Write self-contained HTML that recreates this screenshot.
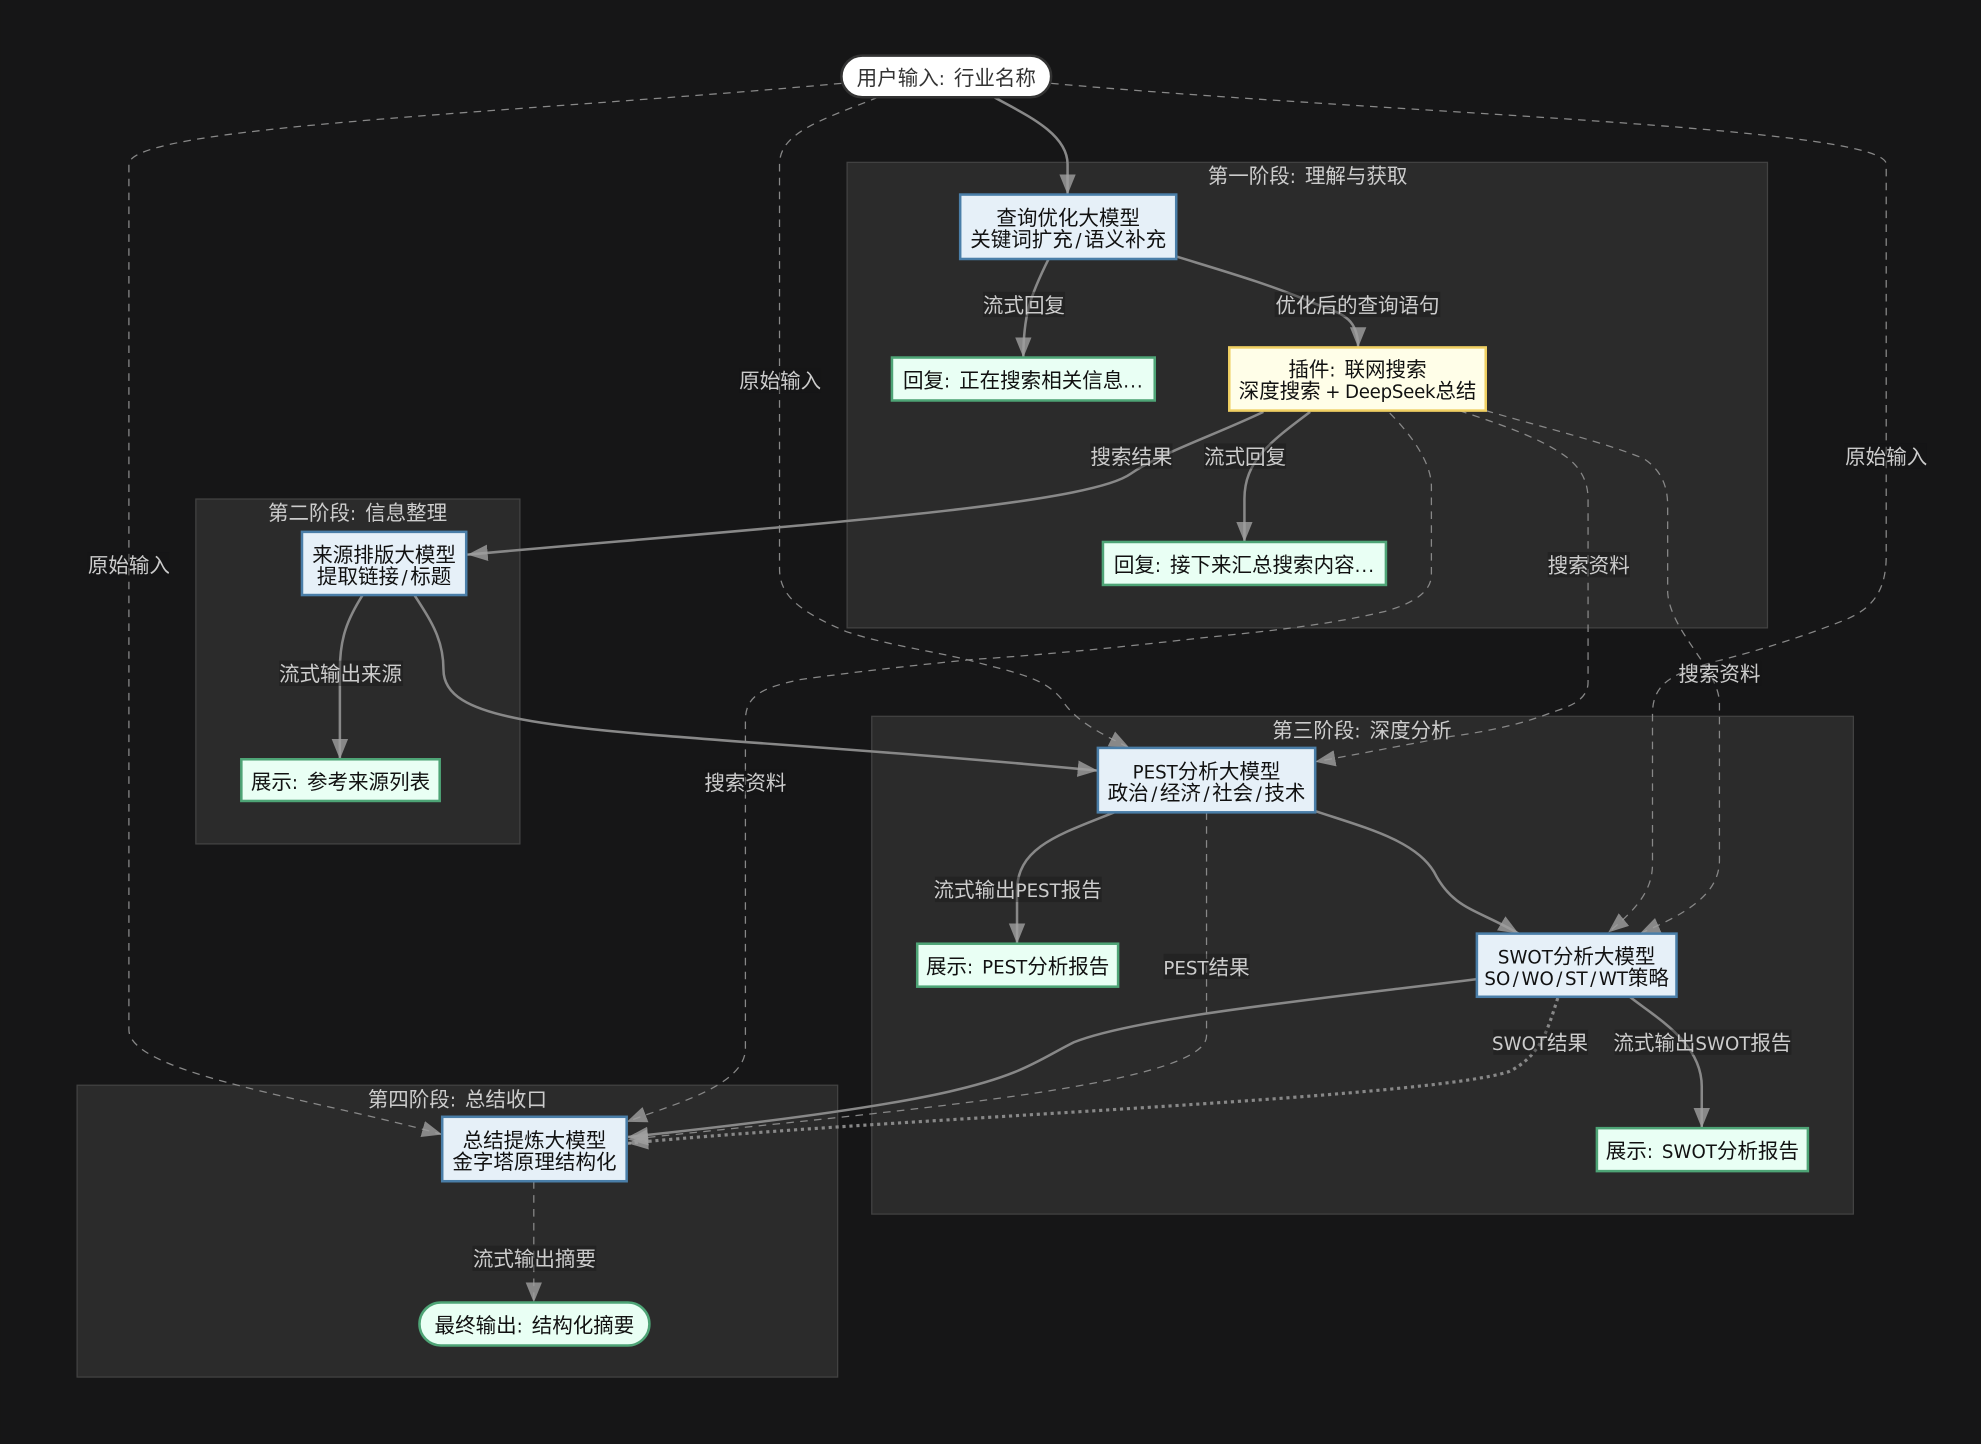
<!DOCTYPE html>
<html><head><meta charset="utf-8"><style>
html,body{margin:0;padding:0;background:#161617}
svg{display:block}
text{font-size:16.25px;text-anchor:middle;transform:translateY(.7px);white-space:pre}
.L{font-family:"DejaVu Sans",sans-serif;font-size:14.4px}
.e{letter-spacing:.8px}
.c{fill:#2b2b2b;stroke:#424242;stroke-width:1}
.t{fill:#ccc;font-family:"WenQuanYi Zen Hei",sans-serif}
.n{fill:#111;font-family:"Noto Sans CJK SC",sans-serif}
.s{fill:none;stroke:#888;stroke-width:2}
.d{fill:none;stroke:#888;stroke-width:1;stroke-dasharray:6 5}
.o{fill:none;stroke:#888;stroke-width:2.5;stroke-dasharray:2.5 3}
.b{fill:#e6f0f8;stroke:#4a7ea8;stroke-width:2}
.g{fill:#e9fff4;stroke:#4ea476;stroke-width:2}
.y{fill:#fffee8;stroke:#efcf62;stroke-width:2}
.l{fill:rgba(20,20,20,.35)}
</style></head><body>
<svg xmlns="http://www.w3.org/2000/svg" width="1981" height="1444" viewBox="0 0 1568 1143">
<defs><marker id="a" markerUnits="userSpaceOnUse" markerWidth="18" markerHeight="16" refX="16" refY="7" orient="auto"><path d="M0,0.5L16,7L0,13.5z" fill="#a0a0a0" fill-opacity=".8"/></marker></defs>
<rect width="1568" height="1143" fill="#161617"/>
<rect class="c" x="670.5" y="128.5" width="728.5" height="368.5"/>
<rect class="c" x="155" y="395" width="256.5" height="273"/>
<rect class="c" x="690" y="567" width="777" height="394"/>
<rect class="c" x="61" y="859" width="602" height="231"/>
<text class="t" x="1035" y="144">第一阶段<tspan class="L">: </tspan><tspan dx="2.5">理解与获取</tspan></text>
<text class="t" x="283" y="411">第二阶段<tspan class="L">: </tspan><tspan dx="2.5">信息整理</tspan></text>
<text class="t" x="1078" y="583">第三阶段<tspan class="L">: </tspan><tspan dx="2.5">深度分析</tspan></text>
<text class="t" x="362" y="875">第四阶段<tspan class="L">: </tspan><tspan dx="2.5">总结收口</tspan></text>

<path class="s" d="M787,77C810,90 845,105 845,130L845,154" marker-end="url(#a)"/>
<path class="s" d="M830,205C815,235 810,250 810,283" marker-end="url(#a)"/>
<path class="s" d="M931,203C970,215 1005,225 1040,240C1060,248 1075,250 1075,275" marker-end="url(#a)"/>
<path class="s" d="M1000,326C960,345 920,358 895,375C860,400 640,415 370,439" marker-end="url(#a)"/>
<path class="s" d="M1037,326C1005,350 985,365 985,395L985,429" marker-end="url(#a)"/>
<path class="s" d="M287,471C275,490 269,505 269,530L269,601" marker-end="url(#a)"/>
<path class="s" d="M328,471C340,490 351,505 351,530C351,585 500,575 869,610" marker-end="url(#a)"/>
<path class="s" d="M882,643C840,660 805,670 805,705L805,747" marker-end="url(#a)"/>
<path class="s" d="M1041,642C1080,655 1120,665 1135,690C1150,720 1170,720 1202,739" marker-end="url(#a)"/>
<path class="s" d="M1169,775C1050,790 900,805 850,825C800,850 800,868 497,900" marker-end="url(#a)"/>
<path class="s" d="M1290,789C1310,805 1347,825 1347,860L1347,893" marker-end="url(#a)"/>
<path class="d" d="M422.5,935L422.5,1031" marker-end="url(#a)"/>
<path class="d" d="M666,66C400,90 102,100 102,130L102,815C102,850 250,870 350,898" marker-end="url(#a)"/>
<path class="d" d="M695,77C650,95 617,105 617,130L617,450C617,470 630,483 670,500C700,510 735,515 765,522C800,532 825,535 840,553C850,570 870,580 894,592" marker-end="url(#a)"/>
<path class="d" d="M832,66C1100,90 1493,100 1493,130L1493,440C1493,470 1480,482 1462,490C1430,503 1395,514 1364,522C1325,532 1308,540 1308,565L1308,684C1308,705 1295,720 1273,738" marker-end="url(#a)"/>
<path class="d" d="M1176,325C1220,338 1270,350 1301,363C1315,372 1320,385 1320,400L1320,469C1322,500 1361,530 1361,557L1361,681C1361,710 1330,725 1298,739" marker-end="url(#a)"/>
<path class="d" d="M1155,325C1185,335 1215,345 1236,359C1250,368 1257,380 1257,395L1257,540C1257,555 1240,560 1228,564C1200,575 1170,580 1148,583C1110,590 1075,597 1041,603" marker-end="url(#a)"/>
<path class="d" d="M1100,327C1115,342 1133,365 1133,385L1133,455C1133,472 1110,480 1096,484C1050,495 1000,500 950,505C890,512 830,518 770,522C720,527 675,532 633,538C605,544 590,550 590,570L590,830C590,860 530,875 496,888" marker-end="url(#a)"/>
<path class="d" d="M955,643L955,820C955,860 700,880 497,902" marker-end="url(#a)"/>
<path class="o" d="M1233,790C1225,815 1220,835 1195,848C1130,870 700,885 497,905" marker-end="url(#a)"/>

<rect x="666" y="44" width="166" height="33" rx="16.5" fill="#fff" stroke="#333" stroke-width="2"/>
<text class="n" style="fill:#333" x="749" y="66.5">用户输入<tspan class="L">: </tspan><tspan dx="2.5">行业名称</tspan></text>
<rect class="b" x="760" y="154" width="171" height="51"/>
<text class="n" x="845.5" y="177.5">查询优化大模型</text><text class="n" x="845.5" y="194.5">关键词扩充<tspan class="L" dx="2">/</tspan><tspan dx="2">语义补充</tspan></text>
<rect class="g" x="706" y="283" width="208" height="34"/>
<text class="n" x="810" y="306">回复<tspan class="L">: </tspan><tspan dx="2.5">正在搜索相关信息</tspan><tspan class="L e">...</tspan></text>
<rect class="y" x="973" y="275" width="203" height="50"/>
<text class="n" x="1074.5" y="297.5">插件<tspan class="L">: </tspan><tspan dx="2.5">联网搜索</tspan></text><text class="n" x="1074.5" y="314.5">深度搜索<tspan class="L" dx="-1"> + </tspan><tspan class="L" dx="-1" style="letter-spacing:-.2px">DeepSeek</tspan>总结</text>
<rect class="g" x="873" y="429" width="224" height="34"/>
<text class="n" x="985" y="452">回复<tspan class="L">: </tspan><tspan dx="2.5">接下来汇总搜索内容</tspan><tspan class="L e">...</tspan></text>
<rect class="b" x="239" y="421" width="130" height="50"/>
<text class="n" x="304" y="444">来源排版大模型</text><text class="n" x="304" y="461">提取链接<tspan class="L" dx="2">/</tspan><tspan dx="2">标题</tspan></text>
<rect class="g" x="191" y="601" width="157" height="33"/>
<text class="n" x="269.5" y="624">展示<tspan class="L">: </tspan><tspan dx="2.5">参考来源列表</tspan></text>
<rect class="b" x="869" y="592" width="172" height="51"/>
<text class="n" x="955" y="615.5"><tspan class="L">PEST</tspan>分析大模型</text><text class="n" x="955" y="632.5">政治<tspan class="L" dx="2">/</tspan><tspan dx="2">经济</tspan><tspan class="L" dx="2">/</tspan><tspan dx="2">社会</tspan><tspan class="L" dx="2">/</tspan><tspan dx="2">技术</tspan></text>
<rect class="g" x="726" y="747" width="159" height="34"/>
<text class="n" x="805.5" y="770">展示<tspan class="L">: </tspan><tspan class="L" dx="2.5">PEST</tspan>分析报告</text>
<rect class="b" x="1169" y="739" width="158" height="50"/>
<text class="n" x="1248" y="762"><tspan class="L">SWOT</tspan>分析大模型</text><text class="n" x="1248" y="779"><tspan class="L">SO</tspan><tspan class="L" dx="2">/</tspan><tspan class="L" dx="2">WO</tspan><tspan class="L" dx="2">/</tspan><tspan class="L" dx="2">ST</tspan><tspan class="L" dx="2">/</tspan><tspan class="L" dx="2">WT</tspan>策略</text>
<rect class="g" x="1264" y="893" width="167" height="34"/>
<text class="n" x="1347.5" y="916">展示<tspan class="L">: </tspan><tspan class="L" dx="2.5">SWOT</tspan>分析报告</text>
<rect class="b" x="350" y="884" width="146" height="51"/>
<text class="n" x="423" y="907.5">总结提炼大模型</text><text class="n" x="423" y="924.5">金字塔原理结构化</text>
<rect class="g" x="332" y="1031" width="182" height="34" rx="17"/>
<text class="n" x="423" y="1054">最终输出<tspan class="L">: </tspan><tspan dx="2.5">结构化摘要</tspan></text>

<rect class="l" x="778" y="231" width="65" height="20"/><text class="t" x="810.5" y="246.5">流式回复</text>
<rect class="l" x="1009" y="231" width="131" height="20"/><text class="t" x="1074.5" y="246.5">优化后的查询语句</text>
<rect class="l" x="863" y="351" width="65" height="20"/><text class="t" x="895.5" y="366.5">搜索结果</text>
<rect class="l" x="953" y="351" width="65" height="20"/><text class="t" x="985.5" y="366.5">流式回复</text>
<rect class="l" x="585" y="291" width="65" height="20"/><text class="t" x="617.5" y="306.5">原始输入</text>
<rect class="l" x="1460" y="351" width="65" height="20"/><text class="t" x="1493" y="366.5">原始输入</text>
<rect class="l" x="69" y="437" width="65" height="20"/><text class="t" x="102" y="452.5">原始输入</text>
<rect class="l" x="1225" y="437" width="65" height="20"/><text class="t" x="1257.5" y="452.5">搜索资料</text>
<rect class="l" x="1329" y="523" width="65" height="20"/><text class="t" x="1361" y="538.5">搜索资料</text>
<rect class="l" x="558" y="609" width="65" height="20"/><text class="t" x="590" y="624.5">搜索资料</text>
<rect class="l" x="221" y="523" width="98" height="20"/><text class="t" x="269.5" y="538.5">流式输出来源</text>
<rect class="l" x="740" y="694" width="132" height="20"/><text class="t" x="805.5" y="709.5">流式输出<tspan class="L">PEST</tspan>报告</text>
<rect class="l" x="921" y="755" width="68" height="20"/><text class="t" x="955" y="770.5"><tspan class="L">PEST</tspan>结果</text>
<rect class="l" x="1182" y="815" width="75" height="20"/><text class="t" x="1219" y="830.5"><tspan class="L">SWOT</tspan>结果</text>
<rect class="l" x="1278" y="815" width="140" height="20"/><text class="t" x="1347.5" y="830.5">流式输出<tspan class="L">SWOT</tspan>报告</text>
<rect class="l" x="374" y="986" width="98" height="20"/><text class="t" x="423" y="1001.5">流式输出摘要</text>
</svg>
</body></html>
